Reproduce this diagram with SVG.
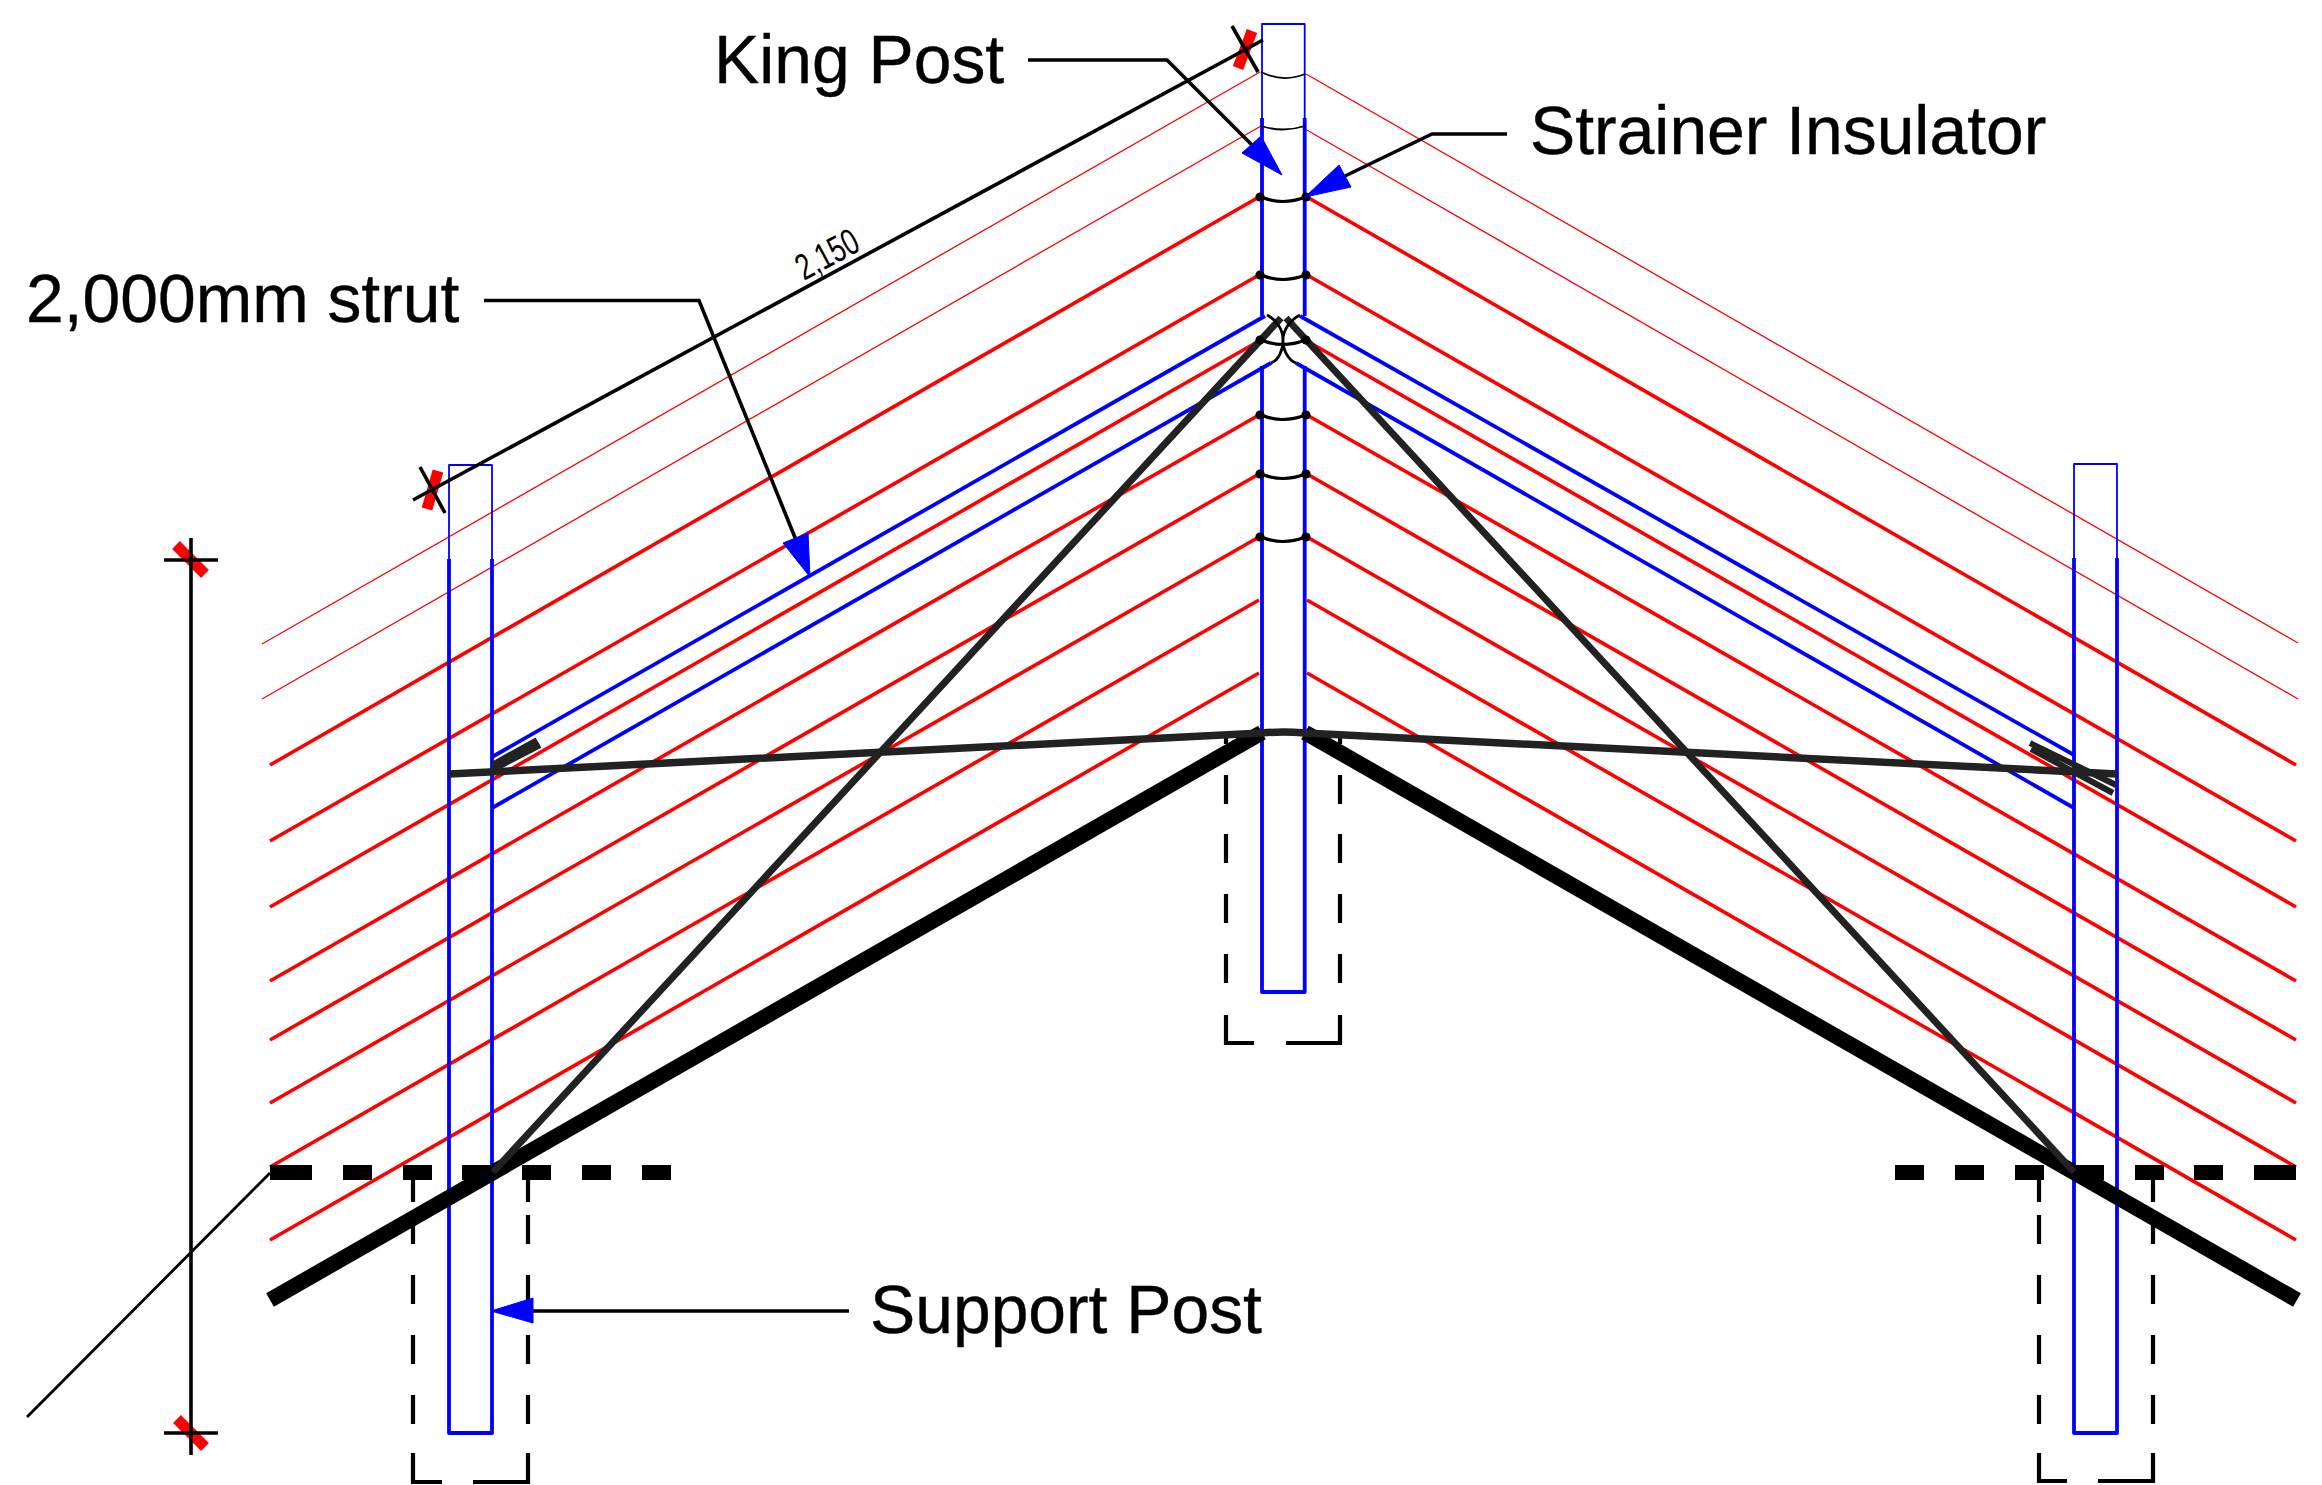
<svg xmlns="http://www.w3.org/2000/svg" width="2322" height="1485" viewBox="0 0 2322 1485">
<defs>
<style>
.rt{fill:none;stroke:#f00;stroke-width:1.3}
.r{fill:none;stroke:#f00;stroke-width:3.6}
.b{fill:none;stroke:#00f;stroke-width:3.8;stroke-linejoin:round}
.bt{fill:none;stroke:#00f;stroke-width:1.8;stroke-linejoin:round}
.k{fill:none;stroke:#000;stroke-width:3.6}
.arc{fill:none;stroke:#000;stroke-width:3.2}
.arct{fill:none;stroke:#000;stroke-width:1.8}
.raft{fill:none;stroke:#000;stroke-width:15.500}
.tie{fill:none;stroke:#222;stroke-width:7}
.tk{fill:none;stroke:#f00;stroke-width:11}
.dash{fill:none;stroke:#000;stroke-width:4.2}
.ah{fill:#00f;stroke:#00f;stroke-width:1;stroke-linejoin:round}
.lbl{font-family:"Liberation Sans",Arial,sans-serif;font-size:67.8px;fill:#000;stroke:#000;stroke-width:.4}
</style>
<g id="ins"><path class="arc" d="M1261 0Q1283 9 1305 0"/><circle cx="1260" cy="0" r="4.6"/><circle cx="1306" cy="0" r="4.6"/></g>
</defs>
<rect width="2322" height="1485" fill="#fff"/>
<g id="wires">
<path class="rt" d="M262 644L1260 72M262 699L1261 126M1306 74L2298 643M1305 129L2298 699"/>
<path class="r" d="M270 765L1259 197M270 841L1259 275M270 907L1259 341M270 981L1259 415M270 1040L1259 474M270 1103L1259 537M270 1167L1259 600M270 1240L1259 673"/>
<path class="r" d="M1307 197L2296 765M1307 275L2296 841M1307 341L2296 907M1307 415L2296 981M1307 474L2296 1040M1307 537L2296 1103M1307 600L2296 1167M1307 673L2296 1240"/>
</g>
<g id="king-post">
<path class="bt" d="M1262 118V24H1304.7V118"/>
<path class="b" d="M1262 118V316M1304.7 118V316M1262 366V992H1304.7V366"/>
</g>
<g id="support-post-left">
<path class="bt" d="M449 559V465H492V559"/>
<path class="b" d="M449 559V1433H492V559"/>
</g>
<g id="support-post-right">
<path class="bt" d="M2074 558V464H2117V558"/>
<path class="b" d="M2074 558V1433H2117V558"/>
</g>
<g id="struts">
<path class="b" d="M492 757L1265 316M492 808L1271 363M2074 755L1300 316M2074 808L1296 363"/>
</g>
<g id="footings">
<path class="dash" d="M1226 732V744M1226 775V804M1226 834V863M1226 894V923M1226 954V983M1226 1015V1043H1254M1286 1043H1340V1015M1340 983V954M1340 923V894M1340 863V834M1340 804V775M1340 744V732"/>
<path class="dash" d="M413 1180V1202M413 1215V1244M413 1275V1304M413 1335V1364M413 1395V1424M413 1453V1482H442M473 1482H528V1453M528 1424V1395M528 1364V1335M528 1304V1275M528 1244V1215M528 1202V1180"/>
<path class="dash" d="M2039 1180V1202M2039 1215V1244M2039 1275V1304M2039 1335V1364M2039 1395V1424M2039 1453V1481H2067M2098 1481H2153V1453M2153 1424V1395M2153 1364V1335M2153 1304V1275M2153 1244V1215M2153 1202V1180"/>
</g>
<g id="ground">
<path fill="none" stroke="#000" stroke-width="15" d="M270 1172.5H312M343 1172.5H372M403 1172.5H432M462 1172.5H492M522 1172.5H551M582 1172.5H611M642 1172.5H671"/>
<path fill="none" stroke="#000" stroke-width="15" d="M1895 1172.5H1924M1955 1172.5H1984M2015 1172.5H2044M2075 1172.5H2104M2135 1172.5H2164M2194 1172.5H2223M2254 1172.5H2296"/>
</g>
<g id="rafters">
<path class="raft" d="M270 1300L1262 732.500M2297 1300L1305 732.500"/>
</g>
<g id="ties">
<path class="tie" d="M493 1172L1281 318M2074 1172L1286 318"/>
<path fill="none" stroke="#222" stroke-width="7.5" d="M449 774L1262 733Q1283 731 1305 733L2117 774"/>
<path fill="none" stroke="#222" stroke-width="6" d="M492 765L537 740M492 770L540 745M2030 743L2116 785M2031 749L2113 793"/>
</g>
<g id="insulators">
<path class="arct" d="M1261 72Q1283 83 1305 74M1261 126Q1283 133 1305 126"/>
<use href="#ins" y="197"/><use href="#ins" y="275"/><use href="#ins" y="340"/><use href="#ins" y="415"/><use href="#ins" y="474"/><use href="#ins" y="537"/>
<path fill="none" stroke="#000" stroke-width="2.8" d="M1267 315C1277 320 1283 330 1283 340C1283 350 1288 360 1296 363M1300 315C1290 320 1283 330 1283 340C1283 350 1279 360 1271 363"/>
</g>
<g id="dimensions">
<path class="tk" d="M1252 31L1238 68M438 471L427 509M176 545L205 574M177 1419L205 1447"/>
<path class="k" d="M1263 40L413 500M1232 26L1258 72M420 467L445 513M191 538V1455M164 560H218M164 1433H218"/>
<path fill="none" stroke="#000" stroke-width="2.8" d="M270 1173L27 1417"/>
<text transform="translate(804 281) rotate(-28.4)" font-family="'Liberation Sans',Arial,sans-serif" font-size="37" textLength="66" lengthAdjust="spacingAndGlyphs">2,150</text>
</g>
<g id="connectors">
<path class="k" d="M1028 60H1167L1262 155M1507 134H1432L1345 176M484 300.500H699L796 540M533 1311H849"/>
<path class="ah" d="M1282 175L1242 153L1261 136ZM1305 197L1339 165L1351 187ZM810 577L783 543L808 533ZM491 1311L533 1298V1323Z"/>
</g>
<g id="label-king-post"><text class="lbl" x="714" y="82.500">King Post</text></g>
<g id="label-strainer"><text class="lbl" x="1530" y="154">Strainer Insulator</text></g>
<g id="label-strut"><text class="lbl" x="26" y="322">2,000mm strut</text></g>
<g id="label-support"><text class="lbl" x="870" y="1333">Support Post</text></g>
</svg>
